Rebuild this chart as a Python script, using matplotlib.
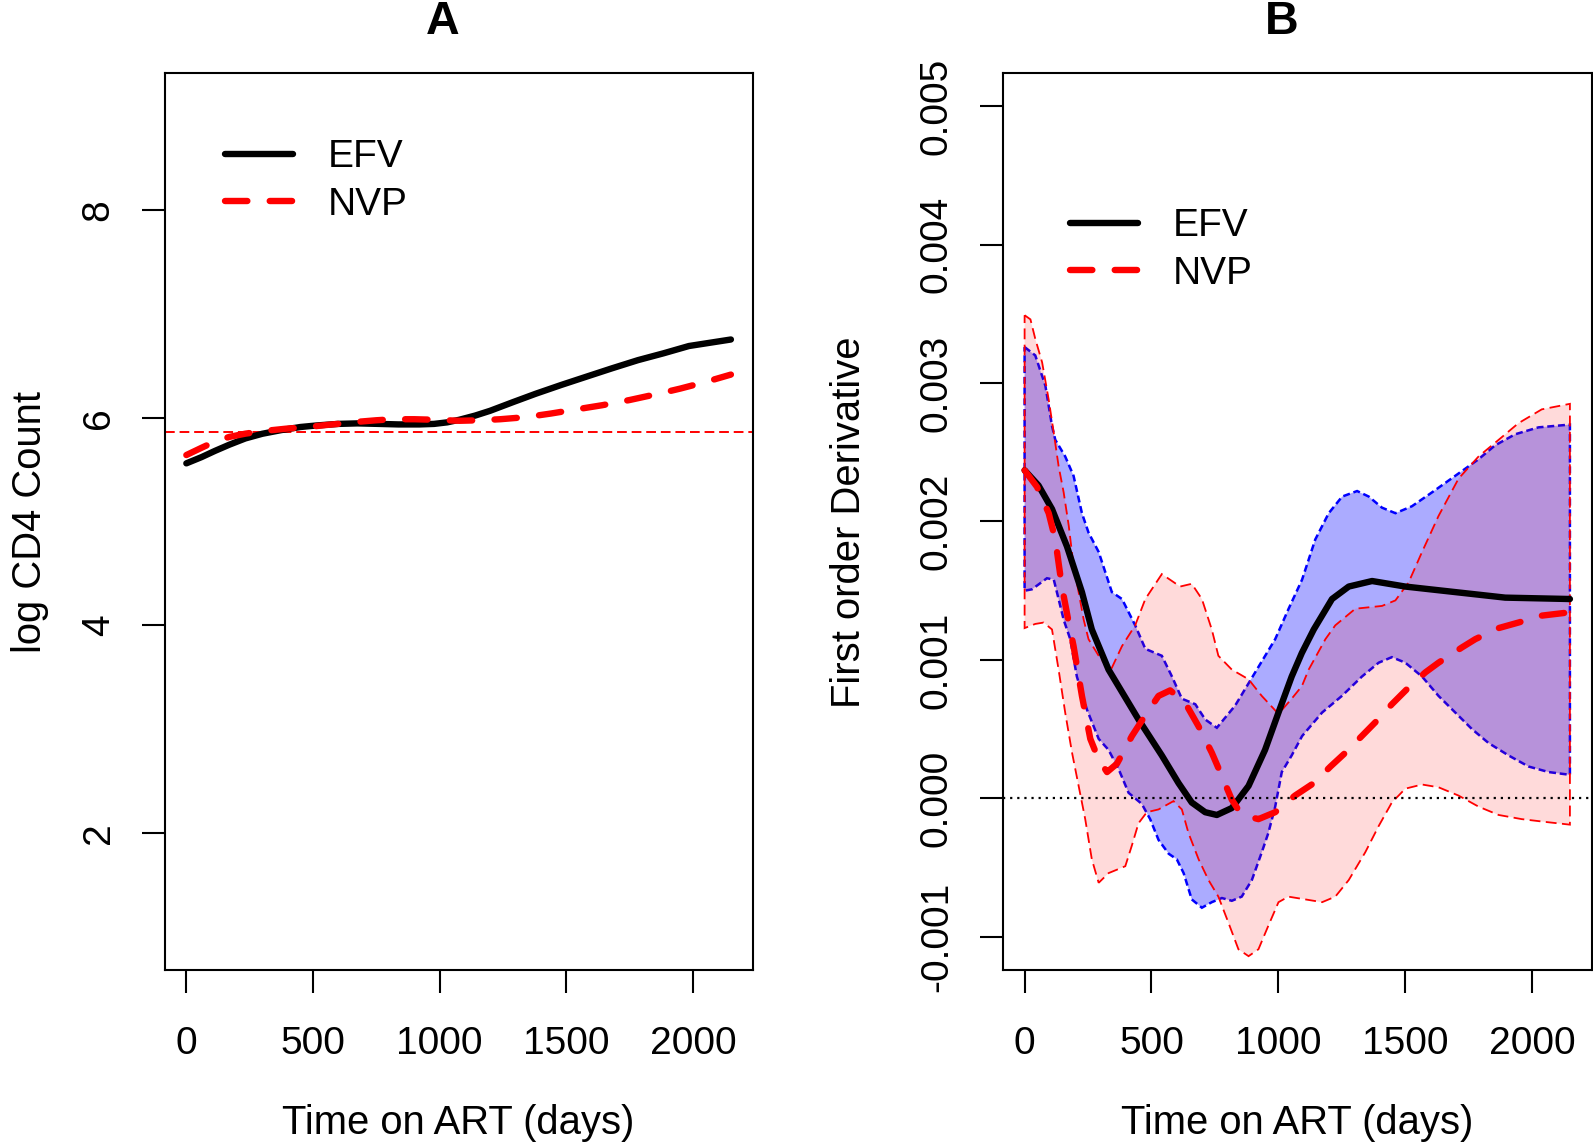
import numpy as np
import matplotlib
matplotlib.use("Agg")
import matplotlib.pyplot as plt
from matplotlib.ticker import FormatStrFormatter

plt.rcParams['font.family'] = ['Liberation Sans', 'DejaVu Sans']
plt.rcParams['axes.unicode_minus'] = False

# ---- Panel A: fitted log CD4 count ----
efv_a_day = [0, 60, 113, 170, 233, 300, 374, 450, 515, 600, 676, 760, 837, 920, 978, 1030,
             1078, 1140, 1199, 1290, 1380, 1480, 1581, 1680, 1783, 1884, 1984, 2150]
efv_a_val = [5.56, 5.62, 5.68, 5.74, 5.80, 5.845, 5.88, 5.91, 5.925, 5.94, 5.945, 5.94, 5.935,
             5.935, 5.94, 5.955, 5.98, 6.02, 6.066, 6.15, 6.231, 6.315, 6.396, 6.475, 6.554,
             6.62, 6.69, 6.753]
nvp_a_day = [0, 60, 113, 170, 233, 300, 394, 480, 555, 620, 676, 750, 817, 900, 978, 1078,
             1160, 1239, 1340, 1440, 1540, 1642, 1750, 1863, 1950, 2044, 2150]
nvp_a_val = [5.64, 5.71, 5.77, 5.815, 5.846, 5.87, 5.894, 5.91, 5.93, 5.945, 5.96, 5.975,
             5.985, 5.985, 5.98, 5.97, 5.975, 5.985, 6.005, 6.04, 6.08, 6.12, 6.17, 6.23, 6.28,
             6.34, 6.415]
cd4_ref = 5.858   # log(350)

# ---- Panel B: first order derivative ----
efv_d_day = [0, 55, 108, 167, 226, 265, 331, 449, 541, 607, 659, 712, 758, 817, 883, 948,
             1001, 1053, 1093, 1140, 1212, 1278, 1370, 1501, 1698, 1895, 2150]
efv_d_val = [0.00237, 0.00226, 0.00209, 0.00182, 0.00149, 0.00122, 0.00093, 0.00057, 0.00031,
             0.00011, -0.00003, -0.00010, -0.00012, -0.00007, 0.00009, 0.00035,
             0.00062, 0.00088, 0.00105, 0.00122, 0.00144, 0.00153, 0.00157, 0.00153,
             0.00149, 0.00145, 0.00144]
nvp_d_day = [0, 49, 95, 121, 147, 174, 193, 226, 259, 292, 325, 364, 423, 476, 528, 574, 633,
             686, 738, 778, 817, 856, 922, 988, 1066, 1140, 1206, 1265, 1324, 1383, 1448, 1508,
             1580, 1632, 1724, 1777, 1869, 1947, 2039, 2131, 2150]
nvp_d_val = [0.00237, 0.00225, 0.00206, 0.00187, 0.00153, 0.00127, 0.00110, 0.00074, 0.00043,
             0.00028, 0.00019, 0.00025, 0.00045, 0.00060, 0.00074, 0.00078, 0.00069, 0.00052,
             0.00033, 0.00016, -0.00001, -0.00012, -0.00015, -0.00010, 0.00002, 0.00011,
             0.00023, 0.00033, 0.00044, 0.00055, 0.00068, 0.00079, 0.00091, 0.00098, 0.00109,
             0.00115, 0.00123, 0.00127, 0.00132, 0.00134, 0.00135]

efv_up_day = [0, 42, 82, 108, 121, 160, 193, 226, 252, 292, 344, 384, 436, 476, 541, 581, 620,
              673, 712, 758, 830, 909, 988, 1041, 1094, 1146, 1199, 1252, 1311, 1357, 1409, 1462,
              1527, 1606, 1698, 1790, 1855, 1934, 2026, 2150]
efv_up_val = [0.00326, 0.00320, 0.00298, 0.00269, 0.00259, 0.00247, 0.00233, 0.00206, 0.00192,
              0.00178, 0.00149, 0.00144, 0.00125, 0.00108, 0.00103, 0.00088, 0.00072, 0.00068,
              0.00057, 0.00051, 0.00067, 0.00091, 0.00115, 0.00137, 0.00158, 0.00187, 0.00206,
              0.00218, 0.00222, 0.00218, 0.00210, 0.00206, 0.00211, 0.00221, 0.00233, 0.00245,
              0.00255, 0.00263, 0.00268, 0.00270]
efv_lo_day = [0, 29, 88, 115, 134, 154, 180, 206, 246, 292, 331, 371, 410, 462, 495, 528, 568,
              600, 627, 659, 699, 738, 778, 817, 856, 896, 935, 961, 988, 1014, 1053, 1094, 1173,
              1251, 1330, 1396, 1448, 1501, 1567, 1632, 1698, 1764, 1829, 1908, 1987, 2066, 2150]
efv_lo_val = [0.00150, 0.00151, 0.00159, 0.00158, 0.00144, 0.00129, 0.00115, 0.00088, 0.00064,
              0.00043, 0.00035, 0.00021, 0.00004, -0.00004, -0.00015, -0.00030, -0.00040,
              -0.00044, -0.00054, -0.00073, -0.00079, -0.00075, -0.00072, -0.00074, -0.00071,
              -0.00059, -0.00039, -0.00025, -0.00006, 0.00019, 0.00031, 0.00045, 0.00062,
              0.00074, 0.00088, 0.00098, 0.00102, 0.00098, 0.00088, 0.00074, 0.00062, 0.00050,
              0.00040, 0.00031, 0.00023, 0.00019, 0.00017]

nvp_up_day = [0, 23, 42, 69, 95, 115, 134, 154, 174, 193, 213, 233, 252, 292, 338, 384, 436,
              476, 541, 613, 659, 699, 738, 764, 817, 883, 935, 1001, 1053, 1093, 1120, 1186,
              1225, 1304, 1409, 1462, 1514, 1567, 1632, 1711, 1790, 1869, 1947, 2039, 2150]
nvp_up_val = [0.00349, 0.00346, 0.00332, 0.00315, 0.00288, 0.00264, 0.00240, 0.00221, 0.00197,
              0.00168, 0.00149, 0.00129, 0.00115, 0.00103, 0.00092, 0.00110, 0.00125, 0.00144,
              0.00162, 0.00153, 0.00155, 0.00144, 0.00122, 0.00103, 0.00093, 0.00086, 0.00074,
              0.00061, 0.00072, 0.00081, 0.00093, 0.00115, 0.00125, 0.00137, 0.00139, 0.00143,
              0.00156, 0.00178, 0.00204, 0.00231, 0.00247, 0.00259, 0.00271, 0.00281, 0.00285]
nvp_lo_day = [0, 42, 75, 108, 134, 160, 187, 213, 239, 265, 292, 331, 371, 397, 423, 449, 482,
              528, 587, 620, 646, 686, 725, 764, 804, 843, 883, 922, 961, 1001, 1040, 1107, 1173,
              1225, 1278, 1343, 1396, 1448, 1501, 1567, 1632, 1711, 1790, 1869, 1960, 2052, 2150]
nvp_lo_val = [0.00123, 0.00126, 0.00127, 0.00122, 0.00093, 0.00062, 0.00033, 0.00009, -0.00015,
              -0.00044, -0.00061, -0.00054, -0.00051, -0.00049, -0.00034, -0.00018, -0.00010,
              -0.00008, -0.00002, -0.00008, -0.00025, -0.00044, -0.00059, -0.00071, -0.00090,
              -0.00109, -0.00114, -0.00109, -0.00092, -0.00075, -0.00071, -0.00073, -0.00075,
              -0.00071, -0.00059, -0.00039, -0.00020, -0.00003, 0.00007, 0.00010, 0.00008,
              0.00002, -0.00006, -0.00012, -0.00015, -0.00017, -0.00019]

x_ticks = [0, 500, 1000, 1500, 2000]
a_yticks = [2, 4, 6, 8]
b_yticks = [-0.001, 0, 0.001, 0.002, 0.003, 0.004, 0.005]

FS = 28
LW = 4.6


def style_axes(ax, yticks, fmt):
    ax.set_xlim(-86, 2236)
    ax.set_xticks(x_ticks)
    ax.set_yticks(yticks)
    ax.yaxis.set_major_formatter(FormatStrFormatter(fmt))
    for lab in ax.get_yticklabels():
        lab.set_rotation(90)
        lab.set_va('center')
    ax.tick_params(axis='both', direction='out', length=16.5, width=1.5, labelsize=FS)
    ax.tick_params(axis='x', pad=24)
    ax.tick_params(axis='y', pad=18)
    for s in ax.spines.values():
        s.set_linewidth(1.5)


fig = plt.figure(figsize=(15.93, 11.42), dpi=100)

# Panel A
axA = fig.add_axes([0.1033, 0.1506, 0.3692, 0.7855])
axA.axhline(cd4_ref, color='red', lw=1.4, dashes=(5, 2.5))
axA.plot(efv_a_day, efv_a_val, color='black', lw=LW, solid_capstyle='round', label='EFV')
axA.plot(nvp_a_day, nvp_a_val, color='red', lw=LW, dashes=(3.5, 3.5),
         dash_capstyle='round', label='NVP')
axA.set_ylim(0.68, 9.32)
style_axes(axA, a_yticks, '%d')
axA.legend(loc='upper left', bbox_to_anchor=(0.102, 0.926), frameon=False, fontsize=FS,
           borderpad=0, borderaxespad=0, handlelength=1.75, handletextpad=0.9,
           labelspacing=0.29)

# Panel B
axB = fig.add_axes([0.6295, 0.1506, 0.3697, 0.7855])
axB.fill(efv_up_day + efv_lo_day[::-1], efv_up_val + efv_lo_val[::-1],
         facecolor=(0, 0, 1, 0.33), edgecolor='blue', lw=1.8, ls=(0, (2.8, 1.5)))
axB.plot(efv_d_day, efv_d_val, color='black', lw=LW, solid_capstyle='round', label='EFV')
axB.fill(nvp_up_day + nvp_lo_day[::-1], nvp_up_val + nvp_lo_val[::-1],
         facecolor=(1, 0, 0, 0.145), edgecolor='red', lw=1.3, ls=(0, (6, 3)))
axB.plot(nvp_d_day, nvp_d_val, color='red', lw=LW, dashes=(3.5, 3.5),
         dash_capstyle='round', label='NVP')
axB.axhline(0, color='black', lw=1.6, dashes=(1, 2.2))
axB.set_ylim(-0.00124, 0.00524)
style_axes(axB, b_yticks, '%.3f')
axB.legend(loc='upper left', bbox_to_anchor=(0.114, 0.849), frameon=False, fontsize=FS,
           borderpad=0, borderaxespad=0, handlelength=1.75, handletextpad=0.9,
           labelspacing=0.29)

# titles and axis labels
fig.text(443 / 1593, 1 - 34 / 1142, 'A', ha='center', va='baseline', fontsize=33.6,
         fontweight='bold')
fig.text(1282 / 1593, 1 - 34 / 1142, 'B', ha='center', va='baseline', fontsize=33.6,
         fontweight='bold')
fig.text(458 / 1593, 1 - 1123 / 1142, 'Time on ART (days)', ha='center', va='center',
         fontsize=28.8)
fig.text(1297 / 1593, 1 - 1123 / 1142, 'Time on ART (days)', ha='center', va='center',
         fontsize=28.8)
fig.text(30.5 / 1593, 1 - 522 / 1142, 'log CD4 Count', rotation=90, ha='center', va='center',
         fontsize=28.8)
fig.text(849 / 1593, 1 - 522 / 1142, 'First order Derivative', rotation=90, ha='center',
         va='center', fontsize=28.8)

fig.savefig('out.png', dpi=100)
